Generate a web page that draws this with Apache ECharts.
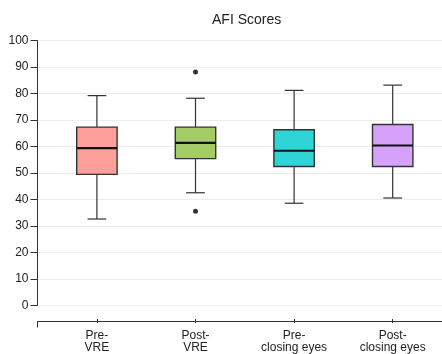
<!DOCTYPE html>
<html><head><meta charset="utf-8">
<script src="https://cdn.jsdelivr.net/npm/echarts@6/dist/echarts.min.js"></script>
<style>html,body{margin:0;padding:0;background:#fff}#c{width:442px;height:354px}</style>
</head><body><div id="c"></div>
<script>
var categories = ['Pre-\nVRE', 'Post-\nVRE', 'Pre-\nclosing eyes', 'Post-\nclosing eyes'];
var whiskerLow = [32, 42, 38, 40];
var q1 = [49, 55, 52, 52];
var median = [59, 61, 58, 60];
var q3 = [67, 67, 66, 68];
var whiskerHigh = [79, 78, 81, 83];
var outliers = [[1, 88], [1, 35]];
var boxColors = ['#FF9F9B', '#A3CB66', '#2ED4D6', '#D5A1FA'];
var yTicks = [0, 10, 20, 30, 40, 50, 60, 70, 80, 90, 100];

var FONT = 'Liberation Sans';
var boxData = categories.map(function (c, i) {
  return [i, whiskerLow[i], q1[i], median[i], q3[i], whiskerHigh[i]];
});

function renderBox(params, api) {
  var i = api.value(0);
  var band = api.size([1, 0])[0];
  var bw = band * 0.41, cw = band * 0.19;
  var pLow = api.coord([i, api.value(1)]);
  var pQ1 = api.coord([i, api.value(2)]);
  var pMed = api.coord([i, api.value(3)]);
  var pQ3 = api.coord([i, api.value(4)]);
  var pHigh = api.coord([i, api.value(5)]);
  var x = pQ1[0];
  var wStyle = { stroke: '#333', lineWidth: 1.2 };
  return {
    type: 'group',
    children: [
      { type: 'line', shape: { x1: x, y1: pHigh[1], x2: x, y2: pQ3[1] }, style: wStyle },
      { type: 'line', shape: { x1: x, y1: pQ1[1], x2: x, y2: pLow[1] }, style: wStyle },
      { type: 'line', shape: { x1: x - cw / 2, y1: pHigh[1], x2: x + cw / 2, y2: pHigh[1] }, style: wStyle },
      { type: 'line', shape: { x1: x - cw / 2, y1: pLow[1], x2: x + cw / 2, y2: pLow[1] }, style: wStyle },
      { type: 'rect', shape: { x: x - bw / 2, y: pQ3[1], width: bw, height: pQ1[1] - pQ3[1] },
        style: { fill: boxColors[params.dataIndex], stroke: '#333', lineWidth: 1.4 } },
      { type: 'line', shape: { x1: x - bw / 2, y1: pMed[1], x2: x + bw / 2, y2: pMed[1] },
        style: { stroke: '#111', lineWidth: 2.2 } }
    ]
  };
}

var chart = echarts.init(document.getElementById('c'), null, { renderer: 'canvas' });
chart.setOption({
  animation: false,
  backgroundColor: '#fff',
  textStyle: { fontFamily: FONT },
  title: {
    text: 'AFI Scores', left: 207, top: 8,
    textStyle: { fontFamily: FONT, fontSize: 14, fontWeight: 'normal', color: '#222' }
  },
  grid: [
    { left: 47.6, right: -2.8, top: 40.5, bottom: 48.5 },
    { left: 37.5, right: -3, top: 40.5, bottom: 48.5 }
  ],
  xAxis: [
    {
      type: 'category', gridIndex: 0, data: categories, offset: 16,
      axisLine: { show: false, onZero: false },
      axisTick: { show: true, alignWithLabel: true, length: 4, lineStyle: { color: '#333' } },
      axisLabel: { fontFamily: FONT, fontSize: 12, color: '#222', lineHeight: 12.5, margin: 10 },
      splitLine: { show: false }
    },
    {
      type: 'value', gridIndex: 1, min: 0, max: 1, interval: 1, offset: 16,
      axisLine: { show: true, onZero: false, lineStyle: { color: '#333', width: 1 } },
      axisTick: { show: true, length: 6, lineStyle: { color: '#333' } },
      axisLabel: { show: false }, splitLine: { show: false }
    }
  ],
  yAxis: [
    { type: 'value', gridIndex: 0, min: 0, max: 100, interval: 10, show: false },
    {
      type: 'value', gridIndex: 1, min: 0, max: 100, interval: 10,
      axisLine: { show: true, lineStyle: { color: '#333', width: 1 } },
      axisTick: { show: true, length: 7, lineStyle: { color: '#333' } },
      axisLabel: {
        fontFamily: FONT, fontSize: 12, color: '#222', margin: 9,
        formatter: function (v) { return yTicks.indexOf(v) >= 0 ? String(v) : ''; }
      },
      splitLine: { show: true, lineStyle: { color: '#EDEDED', width: 1 } }
    }
  ],
  series: [
    { type: 'custom', xAxisIndex: 0, yAxisIndex: 0, renderItem: renderBox,
      encode: { x: 0, y: [1, 2, 3, 4, 5] }, data: boxData, z: 3 },
    { type: 'scatter', xAxisIndex: 0, yAxisIndex: 0, data: outliers,
      symbol: 'circle', symbolSize: 5, itemStyle: { color: '#000' }, z: 4 }
  ]
});
</script></body></html>
